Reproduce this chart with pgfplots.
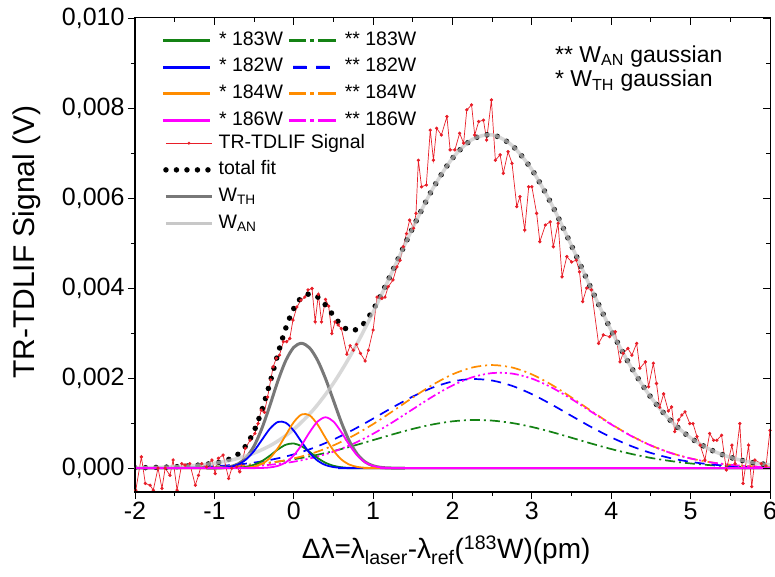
\documentclass[border=0pt]{standalone}
\usepackage{fontspec}
\setmainfont{Liberation Sans}
\usepackage{pgfplots}
\pgfplotsset{compat=1.18}

\definecolor{cgreen}{RGB}{20,130,20}
\definecolor{cblue}{RGB}{0,0,255}
\definecolor{orng}{RGB}{255,140,0}
\definecolor{cmag}{RGB}{255,0,255}
\definecolor{cred}{RGB}{232,30,40}
\definecolor{cdark}{RGB}{120,120,120}
\definecolor{clight}{RGB}{200,200,200}

\tikzset{
  dashdot/.style={dash pattern=on 10pt off 4pt on 2pt off 4pt},
  dashonly/.style={dash pattern=on 10pt off 7pt},
  dashdotdot/.style={dash pattern=on 9pt off 3pt on 2pt off 3pt on 2pt off 3pt},
  thline/.style={line width=1.8pt},
  anline/.style={line width=1.7pt},
  totfit/.style={black, line width=5.5pt, line cap=round, dash pattern=on 0pt off 10.5pt},
}
\newcommand{\legsolid}[1]{\fill[#1] (0pt,-1pt) rectangle (46pt,1pt);}
\newcommand{\legdashdot}[1]{\fill[#1] (0pt,-0.9pt) rectangle (16pt,0.9pt) (21pt,-0.9pt) rectangle (24pt,0.9pt) (29pt,-0.9pt) rectangle (46pt,0.9pt);}
\newcommand{\legdashed}[1]{\fill[#1] (4pt,-0.9pt) rectangle (17pt,0.9pt) (27pt,-0.9pt) rectangle (40pt,0.9pt);}

\pgfplotsset{
  common/.style={
    scale only axis, width=635pt, height=474pt,
    xmin=-2, xmax=6, ymin=-0.00053, ymax=0.010,
    xtick={-2,-1,...,6}, ytick={0,0.002,0.004,0.006,0.008,0.010},
    minor x tick num=1, minor y tick num=1,
    scaled y ticks=false,
    axis line style={line width=1pt},
    every tick/.style={black, line width=0.9pt},
    major tick length=7pt, minor tick length=4pt,
  },
  mylegend/.style={
    legend cell align=left,
    legend image code/.code={\draw[##1] (0pt,0pt) -- (46pt,0pt);},
    legend style={draw=none, fill=none, inner sep=0pt, anchor=north west,
      font=\fontsize{19.5}{22}\selectfont,
      nodes={inner sep=0pt, text height=14pt, text depth=4pt},
      row sep=8.7pt,
      /tikz/every odd column/.append style={column sep=4pt},
      /tikz/every even column/.append style={column sep=6pt}},
  },
}

\begin{document}
\begin{tikzpicture}
\useasboundingbox (-135pt,-85pt) rectangle (640pt,492pt);

\begin{axis}[common,
  xtick pos=left, ytick pos=left, tick align=outside,
  /pgf/number format/assume math mode=true,
  every tick label/.append style={font=\fontsize{25}{28}\selectfont},
  yticklabel style={/pgf/number format/.cd, fixed, fixed zerofill, precision=3, use comma},
  xlabel={Δλ=λ\textsubscript{laser}-λ\textsubscript{ref}(\textsuperscript{183}W)(pm)},
  ylabel={TR-TDLIF Signal (V)},
  xlabel style={font=\fontsize{28}{32}\selectfont, at={(axis description cs:0.49,0)}, anchor=center, yshift=-58pt},
  ylabel style={font=\fontsize{30}{32}\selectfont, at={(axis description cs:0,0.527)}, anchor=center, yshift=108pt},
]

% ---- W_AN gaussian components (**)
\addplot[cgreen, anline, dashdot, smooth, forget plot] table {
x y
-2 0.0000029
-1.75 0.0000056
-1.5 0.0000105
-1.25 0.0000190
-1.0 0.0000328
-0.75 0.0000545
-0.5 0.0000871
-0.25 0.000134
0 0.000197
0.25 0.000279
0.5 0.000379
0.75 0.000496
1.0 0.000623
1.25 0.000752
1.5 0.000872
1.75 0.000971
2.0 0.001040
2.25 0.001069
2.5 0.001056
2.75 0.001003
3.0 0.000915
3.25 0.000802
3.5 0.000675
3.75 0.000546
4.0 0.000424
4.25 0.000317
4.5 0.000227
4.75 0.000157
5.0 0.000104
5.25 0.0000660
5.5 0.0000404
5.75 0.0000237
6.0 0.0000134
};
\addplot[cblue, anline, dashonly, smooth, forget plot] table {
x y
-2 0.0000028
-1.75 0.0000058
-1.5 0.0000117
-1.25 0.0000226
-1.0 0.0000416
-0.75 0.0000733
-0.5 0.000123
-0.25 0.000199
0 0.000306
0.25 0.000451
0.5 0.000635
0.75 0.000854
1.0 0.001100
1.25 0.001353
1.5 0.001591
1.75 0.001790
2.0 0.001925
2.25 0.001979
2.5 0.001946
2.75 0.001829
3.0 0.001644
3.25 0.001412
3.5 0.001160
3.75 0.000911
4.0 0.000684
4.25 0.000491
4.5 0.000337
4.75 0.000221
5.0 0.000139
5.25 0.0000834
5.5 0.0000478
5.75 0.0000262
6.0 0.0000138
};
\addplot[color=orng, anline, dashdot, smooth, forget plot] table {
x y
-2 0.0000011
-1.75 0.0000025
-1.5 0.0000054
-1.25 0.0000112
-1.0 0.0000223
-0.75 0.0000422
-0.5 0.0000762
-0.25 0.000131
0 0.000216
0.25 0.000338
0.5 0.000505
0.75 0.000720
1.0 0.000978
1.25 0.001268
1.5 0.001569
1.75 0.001851
2.0 0.002083
2.25 0.002236
2.5 0.002290
2.75 0.002236
3.0 0.002083
3.25 0.001851
3.5 0.001569
3.75 0.001268
4.0 0.000978
4.25 0.000720
4.5 0.000505
4.75 0.000338
5.0 0.000216
5.25 0.000131
5.5 0.0000762
5.75 0.0000422
6.0 0.0000223
};
\addplot[cmag, anline, dashdotdot, smooth, forget plot] table {
x y
-2 0.0000005
-1.75 0.0000011
-1.5 0.0000026
-1.25 0.0000058
-1.0 0.0000121
-0.75 0.0000242
-0.5 0.0000460
-0.25 0.0000833
0 0.000143
0.25 0.000235
0.5 0.000366
0.75 0.000542
1.0 0.000764
1.25 0.001025
1.5 0.001309
1.75 0.001590
2.0 0.001837
2.25 0.002019
2.5 0.002112
2.75 0.002101
3.0 0.001989
3.25 0.001791
3.5 0.001535
3.75 0.001251
4.0 0.000971
4.25 0.000716
4.5 0.000503
4.75 0.000336
5.0 0.000214
5.25 0.000129
5.5 0.0000742
5.75 0.0000406
6.0 0.0000211
};

% ---- measured signal
\addplot[cred, line width=0.7pt, mark=*, mark size=1.3pt, mark options={fill=cred, draw=cred}, forget plot] table {
x y
-1.99 -0.00049
-1.92 0.00025
-1.87 -0.00034
-1.81 -0.00038
-1.77 -0.00049
-1.71 0.0
-1.66 -0.00045
-1.62 0.0
-1.56 -0.00016
-1.52 0.00018
-1.47 -0.00049
-1.41 0.0001
-1.37 0.00007
-1.31 0.0001
-1.24 -0.00038
-1.20 -0.00016
-1.16 0.0001
-1.10 0.00003
-1.03 0.00018
-0.99 -0.00012
-0.95 0.00022
-0.89 0.00029
-0.82 -0.00023
-0.78 0.0
-0.72 0.00003
-0.68 -0.00008
-0.61 0.00044
-0.55 0.00062
-0.49 0.00077
-0.45 0.00099
-0.41 0.00129
-0.37 0.00124
-0.33 0.00158
-0.29 0.00196
-0.26 0.00225
-0.22 0.00244
-0.18 0.00251
-0.13 0.00281
-0.09 0.00281
-0.05 0.00288
-0.01 0.00329
0.04 0.00358
0.09 0.00373
0.14 0.00380
0.18 0.00396
0.23 0.00399
0.27 0.00325
0.31 0.00386
0.35 0.00325
0.40 0.00375
0.44 0.00360
0.48 0.00299
0.52 0.00325
0.56 0.00318
0.60 0.00310
0.67 0.00253
0.71 0.00272
0.75 0.00262
0.79 0.00275
0.84 0.00255
0.90 0.00238
0.94 0.00262
1.00 0.00307
1.05 0.00380
1.11 0.00377
1.15 0.00380
1.19 0.00403
1.25 0.00418
1.30 0.00447
1.34 0.00462
1.38 0.00492
1.42 0.00521
1.46 0.00551
1.51 0.00533
1.54 0.00566
1.57 0.00684
1.61 0.00625
1.67 0.00629
1.72 0.00751
1.76 0.00684
1.80 0.00755
1.86 0.00740
1.93 0.00781
1.97 0.00707
2.03 0.00707
2.09 0.00744
2.14 0.00722
2.18 0.00796
2.24 0.00807
2.28 0.00740
2.33 0.00770
2.39 0.00773
2.43 0.00729
2.49 0.00818
2.54 0.00684
2.60 0.00696
2.64 0.00655
2.70 0.00703
2.75 0.00677
2.81 0.00581
2.85 0.00603
2.91 0.00529
2.96 0.00625
3.00 0.00625
3.06 0.00566
3.10 0.00503
3.17 0.00540
3.23 0.00547
3.27 0.00492
3.33 0.00544
3.38 0.00425
3.44 0.00470
3.50 0.00458
3.56 0.00462
3.60 0.00436
3.64 0.00370
3.69 0.00400
3.75 0.00396
3.84 0.00277
3.90 0.00296
3.98 0.00292
4.05 0.00303
4.11 0.00236
4.15 0.00255
4.21 0.00266
4.26 0.00251
4.32 0.00277
4.36 0.00222
4.43 0.00236
4.47 0.00181
4.53 0.00233
4.57 0.00188
4.61 0.00135
4.66 0.00165
4.72 0.00127
4.76 0.00136
4.80 0.00081
4.85 0.00107
4.89 0.00118
4.93 0.00125
4.99 0.00099
5.03 0.00099
5.08 0.00070
5.12 0.00051
5.18 0.00018
5.24 0.00077
5.29 0.00062
5.33 0.00062
5.39 0.00073
5.45 -0.00004
5.52 0.00051
5.56 0.00010
5.62 0.00099
5.66 -0.00034
5.73 0.00051
5.77 -0.00041
5.81 0.00018
5.89 0.00010
5.95 0.00005
6.00 0.00084
};

% ---- total fit
\addplot[totfit, smooth, forget plot] table {
x y
-2 0.0000072
-1.75 0.0000150
-1.5 0.0000302
-1.25 0.0000586
-1.0 0.000111
-0.9 0.000148
-0.8 0.000207
-0.7 0.000312
-0.6 0.000504
-0.5 0.000824
-0.4 0.001297
-0.3 0.001893
-0.2 0.002536
-0.1 0.003113
0.0 0.003546
0.1 0.003795
0.2 0.003872
0.3 0.003804
0.4 0.003623
0.5 0.003389
0.6 0.003175
0.7 0.003059
0.8 0.003086
0.9 0.003249
1.0 0.003518
1.1 0.003850
1.2 0.004216
1.3 0.004594
1.5 0.005341
1.75 0.006202
2.0 0.006885
2.25 0.007303
2.5 0.007404
2.75 0.007169
3.0 0.006631
3.25 0.005857
3.5 0.004940
3.75 0.003977
4.0 0.003057
4.25 0.002244
4.5 0.001572
4.75 0.001051
5.0 0.000672
5.25 0.000410
5.5 0.000239
5.75 0.000133
6.0 0.0000706
};

% ---- W_TH
\addplot[cdark, line width=3pt, smooth, forget plot] table {
x y
-1.1 0
-1.0 0.0000024
-0.9 0.0000097
-0.8 0.0000331
-0.7 0.0000954
-0.6 0.000234
-0.5 0.000491
-0.4 0.000889
-0.3 0.001396
-0.2 0.001935
-0.1 0.002391
0.0 0.002684
0.1 0.002773
0.2 0.002670
0.3 0.002397
0.4 0.001990
0.5 0.001505
0.6 0.001017
0.7 0.000604
0.8 0.000312
0.9 0.000137
1.0 0.000052
1.1 0.000016
1.2 0.0000044
1.3 0.000001
1.4 0
};

% ---- W_AN
\addplot[clight, line width=3.5pt, opacity=0.7, smooth, forget plot] table {
x y
-2 0.0000072
-1.75 0.0000150
-1.5 0.0000302
-1.25 0.0000586
-1.0 0.000109
-0.75 0.000194
-0.5 0.000333
-0.25 0.000547
0 0.000862
0.25 0.001302
0.5 0.001885
0.75 0.002612
1.0 0.003465
1.25 0.004398
1.5 0.005341
1.75 0.006202
2.0 0.006885
2.25 0.007303
2.5 0.007404
2.75 0.007169
3.0 0.006631
3.25 0.005857
3.5 0.004940
3.75 0.003977
4.0 0.003057
4.25 0.002244
4.5 0.001572
4.75 0.001051
5.0 0.000672
5.25 0.000410
5.5 0.000239
5.75 0.000133
6.0 0.0000706
};

% ---- W_TH gaussian components (*)
\addplot[cgreen, thline, smooth, forget plot] table {
x y
-2 0
-1.0 0
-0.9 0.0000007
-0.8 0.0000028
-0.7 0.0000100
-0.6 0.0000296
-0.5 0.0000744
-0.4 0.000157
-0.3 0.000278
-0.2 0.000415
-0.1 0.000520
0.0 0.000548
0.1 0.000485
0.2 0.000361
0.3 0.000226
0.4 0.000119
0.5 0.0000526
0.6 0.0000195
0.7 0.0000061
0.8 0.0000016
0.9 0.0000004
1.0 0
6 0
};
\addplot[cblue, thline, smooth, forget plot] table {
x y
-2 0
-1.0 0.0000023
-0.9 0.0000090
-0.8 0.0000297
-0.7 0.0000828
-0.6 0.000194
-0.5 0.000381
-0.4 0.000631
-0.3 0.000877
-0.2 0.001026
-0.1 0.001008
0.0 0.000833
0.1 0.000578
0.2 0.000338
0.3 0.000166
0.4 0.0000683
0.5 0.0000237
0.6 0.0000069
0.7 0.0000017
0.8 0.0000004
0.9 0
6 0
};
\addplot[color=orng, thline, smooth, forget plot] table {
x y
-2 0
-0.9 0
-0.8 0.0000006
-0.7 0.0000027
-0.6 0.0000104
-0.5 0.0000346
-0.4 0.0000963
-0.3 0.000225
-0.2 0.000444
-0.1 0.000734
0.0 0.001021
0.1 0.001193
0.2 0.001173
0.3 0.000969
0.4 0.000673
0.5 0.000393
0.6 0.000193
0.7 0.0000795
0.8 0.0000276
0.9 0.0000080
1.0 0.0000020
1.1 0.0000004
1.2 0
6 0
};
\addplot[cmag, thline, smooth, forget plot] table {
x y
-2 0
-0.6 0
-0.5 0.0000010
-0.4 0.0000044
-0.3 0.0000160
-0.2 0.0000496
-0.1 0.000129
0.0 0.000282
0.1 0.000517
0.2 0.000798
0.3 0.001036
0.4 0.00113
0.5 0.001036
0.6 0.000798
0.7 0.000517
0.8 0.000282
0.9 0.000129
1.0 0.0000496
1.1 0.0000160
1.2 0.0000044
1.3 0.0000010
1.4 0
6 0
};

\node[anchor=base west, inner sep=0pt, font=\fontsize{23}{26}\selectfont] at (axis cs:3.29,0.00902) {** W\textsubscript{AN} gaussian};
\node[anchor=base west, inner sep=0pt, font=\fontsize{23}{26}\selectfont] at (axis cs:3.29,0.00847) {* W\textsubscript{TH} gaussian};
\end{axis}

% mirrored ticks + first legend
\begin{axis}[common, mylegend,
  xtick pos=right, ytick pos=right, tick align=inside,
  xticklabels={}, yticklabels={},
  legend columns=2,
  legend style={at={(axis description cs:0.0441,0.9726)}},
]
\addlegendimage{legend image code/.code={\legsolid{cgreen}}}
\addlegendentry{~* 183W}
\addlegendimage{legend image code/.code={\legdashdot{cgreen}}}
\addlegendentry{~** 183W}
\addlegendimage{legend image code/.code={\legsolid{cblue}}}
\addlegendentry{~* 182W}
\addlegendimage{legend image code/.code={\legdashed{cblue}}}
\addlegendentry{~** 182W}
\addlegendimage{legend image code/.code={\legsolid{orng}}}
\addlegendentry{~* 184W}
\addlegendimage{legend image code/.code={\legdashdot{orng}}}
\addlegendentry{~** 184W}
\addlegendimage{legend image code/.code={\legsolid{cmag}}}
\addlegendentry{~* 186W}
\addlegendimage{legend image code/.code={\legdashdot{cmag}}}
\addlegendentry{~** 186W}
\end{axis}

% second legend
\begin{axis}[common, mylegend, hide axis,
  legend style={at={(axis description cs:0.0441,0.7553)}},
]
\addlegendimage{legend image code/.code={\draw[cred, line width=0.7pt] (0pt,0pt) -- (46pt,0pt); \fill[cred] (23pt,0pt) circle (1.3pt);}}
\addlegendentry{TR-TDLIF Signal}
\addlegendimage{totfit}
\addlegendentry{total fit}
\addlegendimage{cdark, line width=3pt}
\addlegendentry{W\textsubscript{TH}}
\addlegendimage{clight, line width=3.5pt}
\addlegendentry{W\textsubscript{AN}}
\end{axis}
\end{tikzpicture}
\end{document}
